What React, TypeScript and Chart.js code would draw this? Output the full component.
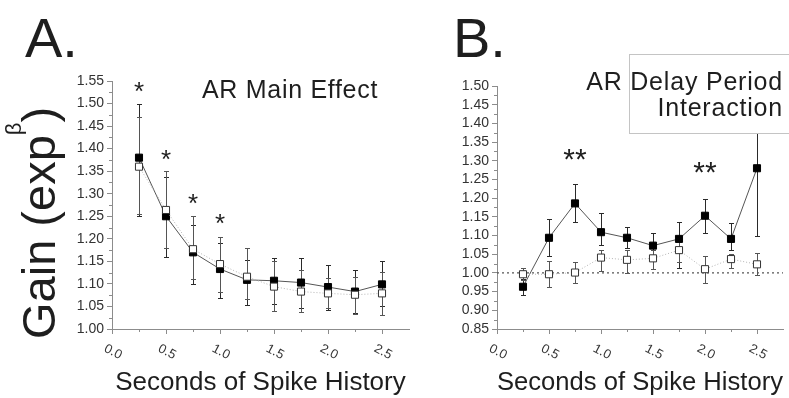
import React, { useEffect, useRef } from 'react';
import { Chart, registerables } from 'chart.js';

Chart.register(...registerables);

// ---------- data ----------
const xValues = [0.25, 0.5, 0.75, 1.0, 1.25, 1.5, 1.75, 2.0, 2.25, 2.5];
const xTickValues = [0, 0.5, 1.0, 1.5, 2.0, 2.5];
const xTickLabels = ['0.0', '0.5', '1.0', '1.5', '2.0', '2.5'];

// Panel A: AR Main Effect
const aFilled = [1.38, 1.25, 1.17, 1.133, 1.109, 1.107, 1.103, 1.093, 1.083, 1.099];
const aFilledLow = [1.25, 1.16, 1.10, 1.068, 1.053, 1.056, 1.046, 1.042, 1.035, 1.05];
const aFilledHigh = [1.50, 1.338, 1.231, 1.19, 1.153, 1.157, 1.158, 1.142, 1.131, 1.151];
const aOpen = [1.36, 1.264, 1.177, 1.144, 1.116, 1.094, 1.083, 1.079, 1.076, 1.079];
const aOpenLow = [1.255, 1.18, 1.111, 1.083, 1.066, 1.041, 1.038, 1.046, 1.034, 1.031];
const aOpenHigh = [1.47, 1.35, 1.25, 1.204, 1.179, 1.15, 1.13, 1.113, 1.116, 1.127];
const aStarX = [0.25, 0.5, 0.75, 1.0];
const aStarY = [1.542, 1.391, 1.293, 1.249];
const aStarText = ['*', '*', '*', '*'];
const aYMin = 1.0;
const aYMax = 1.55;

// Panel B: AR Delay Period Interaction
const bFilled = [0.963, 1.094, 1.186, 1.109, 1.094, 1.073, 1.091, 1.153, 1.091, 1.28];
const bFilledLow = [0.941, 1.044, 1.137, 1.075, 1.066, 1.04, 1.012, 1.106, 1.061, 1.10];
const bFilledHigh = [0.985, 1.144, 1.237, 1.16, 1.124, 1.106, 1.136, 1.198, 1.133, 1.46];
const bOpen = [0.9965, 0.9965, 1.001, 1.041, 1.035, 1.039, 1.061, 1.01, 1.037, 1.023];
const bOpenLow = [0.981, 0.962, 0.974, 1.006, 1.001, 1.01, 1.03, 0.974, 1.012, 0.995];
const bOpenHigh = [1.014, 1.031, 1.03, 1.061, 1.061, 1.06, 1.10, 1.045, 1.05, 1.053];
const bStarX = [0.75, 2.0];
const bStarY = [1.3235, 1.291];
const bStarText = ['**', '**'];
const bRefX = [0, 2.75];
const bRefY = [1.0, 1.0];
const bYMin = 0.85;
const bYMax = 1.5;

const FONT = '"Liberation Sans", Arial, Helvetica, sans-serif';
const AXIS = '#8c8c8c';
const TEXT = '#1e1e1e';

type PanelOpts = {
  filled: number[]; filledLow: number[]; filledHigh: number[];
  open: number[]; openLow: number[]; openHigh: number[];
  starX: number[]; starY: number[]; starText: string[]; starSize: number;
  yMin: number; yMax: number;
  pad: { left: number; right: number; top: number };
  bottomPx: number;
  ref?: { x: number[]; y: number[] };
};

function makePlugin(p: PanelOpts) {
  return {
    id: 'panelExtras',
    beforeDatasetsDraw(chart: any) {
      const { ctx } = chart;
      const x = chart.scales.x;
      const y = chart.scales.y;
      const sets = [
        { low: p.filledLow, high: p.filledHigh, color: '#2a2a2a' },
        { low: p.openLow, high: p.openHigh, color: '#555555' },
      ];
      ctx.save();
      ctx.lineWidth = 1;
      sets.forEach((s) => {
        ctx.strokeStyle = s.color;
        xValues.forEach((xv, i) => {
          const px = Math.round(x.getPixelForValue(xv)) + 0.5;
          const yl = Math.round(y.getPixelForValue(s.low[i])) + 0.5;
          const yh = Math.round(y.getPixelForValue(s.high[i])) + 0.5;
          ctx.beginPath();
          ctx.moveTo(px, yl);
          ctx.lineTo(px, yh);
          ctx.moveTo(px - 2.5, yl);
          ctx.lineTo(px + 2.5, yl);
          ctx.moveTo(px - 2.5, yh);
          ctx.lineTo(px + 2.5, yh);
          ctx.stroke();
        });
      });
      ctx.restore();
    },
    afterDraw(chart: any) {
      const { ctx } = chart;
      const x = chart.scales.x;
      const y = chart.scales.y;
      const area = chart.chartArea;
      ctx.save();
      // minor ticks
      ctx.strokeStyle = AXIS;
      ctx.lineWidth = 1;
      ctx.beginPath();
      for (let v = p.yMin + 0.025; v < p.yMax; v += 0.05) {
        const py = Math.round(y.getPixelForValue(v)) + 0.5;
        ctx.moveTo(area.left - 3, py);
        ctx.lineTo(area.left, py);
      }
      for (let v = 0.25; v < 2.75; v += 0.5) {
        const px = Math.round(x.getPixelForValue(v)) + 0.5;
        ctx.moveTo(px, area.bottom);
        ctx.lineTo(px, area.bottom + 3);
      }
      ctx.stroke();
      // rotated x tick labels
      ctx.fillStyle = '#333';
      ctx.font = `13px ${FONT}`;
      ctx.textAlign = 'center';
      ctx.textBaseline = 'middle';
      xTickValues.forEach((v, i) => {
        const px = x.getPixelForValue(v);
        ctx.save();
        ctx.translate(px + 1, area.bottom + 23);
        ctx.rotate((28 * Math.PI) / 180);
        ctx.fillText(xTickLabels[i], 0, 0);
        ctx.restore();
      });
      // significance stars
      ctx.fillStyle = TEXT;
      ctx.font = `${p.starSize}px ${FONT}`;
      ctx.textAlign = 'center';
      ctx.textBaseline = 'alphabetic';
      p.starX.forEach((sx, i) => {
        const px = x.getPixelForValue(sx);
        const py = y.getPixelForValue(p.starY[i]) + 0.58 * p.starSize;
        ctx.fillText(p.starText[i], px, py);
      });
      ctx.restore();
    },
  };
}

function makeConfig(p: PanelOpts): any {
  const datasets: any[] = [];
  if (p.ref) {
    datasets.push({
      label: 'ref',
      data: p.ref.x.map((v, i) => ({ x: v, y: p.ref!.y[i] })),
      borderColor: '#555',
      borderWidth: 1.2,
      borderDash: [2, 3],
      pointRadius: 0,
      order: 3,
    });
  }
  datasets.push({
    label: 'filled',
    data: xValues.map((v, i) => ({ x: v, y: p.filled[i] })),
    borderColor: '#555',
    borderWidth: 1,
    pointStyle: 'rect',
    pointRadius: 5,
    pointBackgroundColor: '#000',
    pointBorderColor: '#000',
    pointBorderWidth: 1,
    order: 2,
  });
  datasets.push({
    label: 'open',
    data: xValues.map((v, i) => ({ x: v, y: p.open[i] })),
    borderColor: '#b4b4b4',
    borderWidth: 1,
    borderDash: [1, 2],
    pointStyle: 'rect',
    pointRadius: 5,
    pointBackgroundColor: '#fff',
    pointBorderColor: '#333',
    pointBorderWidth: 1,
    order: 1,
  });
  return {
    type: 'line',
    data: { datasets },
    options: {
      responsive: false,
      animation: false,
      events: [],
      layout: { padding: { left: p.pad.left, right: p.pad.right, top: p.pad.top, bottom: 0 } },
      plugins: { legend: { display: false }, tooltip: { enabled: false } },
      scales: {
        x: {
          type: 'linear',
          min: 0,
          max: 2.75,
          ticks: { display: false, stepSize: 0.5, includeBounds: false },
          grid: { drawOnChartArea: false, drawTicks: true, tickLength: 5, color: AXIS },
          border: { display: true, color: AXIS, width: 1 },
          title: {
            display: true,
            text: 'Seconds of Spike History',
            color: TEXT,
            font: { family: FONT, size: 26, lineHeight: 1 },
            padding: { top: 0, bottom: 2 },
          },
          afterFit: (s: any) => {
            s.height = 398 - p.bottomPx;
          },
        },
        y: {
          type: 'linear',
          min: p.yMin,
          max: p.yMax,
          ticks: {
            stepSize: 0.05,
            autoSkip: false,
            color: '#333',
            padding: 3,
            font: { family: FONT, size: 14 },
            callback: (v: any) => Number(v).toFixed(2),
          },
          grid: { drawOnChartArea: false, drawTicks: true, tickLength: 5, color: AXIS },
          border: { display: true, color: AXIS, width: 1 },
          afterFit: (s: any) => {
            s.width = 50;
          },
        },
      },
    },
    plugins: [makePlugin(p)],
  };
}

const panelA: PanelOpts = {
  filled: aFilled, filledLow: aFilledLow, filledHigh: aFilledHigh,
  open: aOpen, openLow: aOpenLow, openHigh: aOpenHigh,
  starX: aStarX, starY: aStarY, starText: aStarText, starSize: 26,
  yMin: aYMin, yMax: aYMax,
  pad: { left: 62, right: 380, top: 81 },
  bottomPx: 329,
};

const panelB: PanelOpts = {
  filled: bFilled, filledLow: bFilledLow, filledHigh: bFilledHigh,
  open: bOpen, openLow: bOpenLow, openHigh: bOpenHigh,
  starX: bStarX, starY: bStarY, starText: bStarText, starSize: 30,
  yMin: bYMin, yMax: bYMax,
  pad: { left: 447, right: 6, top: 86 },
  bottomPx: 329,
  ref: { x: bRefX, y: bRefY },
};

export default function App() {
  const refA = useRef<HTMLCanvasElement>(null);
  const refB = useRef<HTMLCanvasElement>(null);

  useEffect(() => {
    const ca = new Chart(refA.current!, makeConfig(panelA));
    const cb = new Chart(refB.current!, makeConfig(panelB));
    return () => {
      ca.destroy();
      cb.destroy();
    };
  }, []);

  const abs: React.CSSProperties = { position: 'absolute', whiteSpace: 'nowrap', lineHeight: 1 };

  return (
    <div
      style={{
        position: 'absolute', left: 0, top: 0, width: 789, height: 398, overflow: 'hidden',
        background: '#fff', fontFamily: FONT, color: TEXT,
      }}
    >
      <canvas ref={refA} width={789} height={398} style={{ position: 'absolute', left: 0, top: 0 }} />
      <canvas ref={refB} width={789} height={398} style={{ position: 'absolute', left: 0, top: 0 }} />
      <div style={{ ...abs, left: 25, top: 10, fontSize: 56 }}>A.</div>
      <div style={{ ...abs, left: 453, top: 10, fontSize: 56 }}>B.</div>
      <div
        style={{
          ...abs, left: 15, top: 339, fontSize: 47, transform: 'rotate(-90deg)', transformOrigin: '0 0',
        }}
      >
        Gain (exp<span style={{ fontSize: 22, position: 'relative', top: -34 }}>β</span>)
      </div>
      <div style={{ ...abs, left: 202, top: 77, fontSize: 25, letterSpacing: '0.7px' }}>AR Main Effect</div>
      <div
        style={{
          position: 'absolute', left: 629, top: 54, width: 180, height: 78,
          border: '1px solid #c4c4c4', background: '#fff',
        }}
      />
      <div
        style={{
          position: 'absolute', right: 6, top: 68, fontSize: 25, lineHeight: '26px',
          textAlign: 'right', whiteSpace: 'nowrap', letterSpacing: '0.8px',
        }}
      >
        AR Delay Period
        <br />
        Interaction
      </div>
    </div>
  );
}
